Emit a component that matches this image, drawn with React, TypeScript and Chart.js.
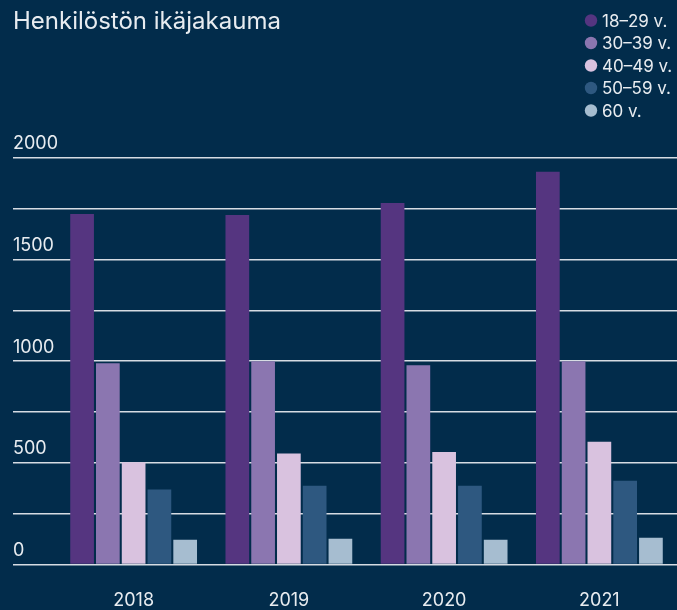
import { useEffect, useRef } from "react";
import { Chart, registerables } from "chart.js";

Chart.register(...registerables);

const titleText = "Henkilöstön ikäjakauma";
const categories = ["2018", "2019", "2020", "2021"];
const seriesLabels = ["18–29 v.", "30–39 v.", "40–49 v.", "50–59 v.", "60 v."];
const age18to29 = [1724, 1719, 1778, 1931];
const age30to39 = [989, 999, 979, 999];
const age40to49 = [502, 545, 553, 603];
const age50to59 = [368, 387, 387, 412];
const age60 = [121, 126, 121, 131];
const seriesColors = ["#553580", "#8b76b0", "#d9c2df", "#2e5880", "#a6bdd0"];
const labeledTicks = [0, 500, 1000, 1500, 2000];

const BG = "#022c4b";
const TEXT = "#e8ecf0";
const FONT = "Inter, 'Noto Sans', sans-serif";

const bgPlugin = {
  id: "bgFill",
  beforeDraw(chart: any) {
    const { ctx, width, height } = chart;
    ctx.save();
    ctx.fillStyle = BG;
    ctx.fillRect(0, 0, width, height);
    ctx.restore();
  },
};

const sideLegend = {
  id: "sideLegend",
  afterDraw(chart: any) {
    const { ctx } = chart;
    ctx.save();
    ctx.font = `17px ${FONT}`;
    ctx.textBaseline = "middle";
    ctx.textAlign = "left";
    chart.data.datasets.forEach((ds: any, i: number) => {
      const y = 20.5 + i * 22.5;
      ctx.fillStyle = ds.backgroundColor;
      ctx.beginPath();
      ctx.arc(591, y, 6.2, 0, Math.PI * 2);
      ctx.fill();
      ctx.fillStyle = TEXT;
      ctx.fillText(ds.label, 602, y + 1);
    });
    ctx.restore();
  },
};

export default function App() {
  const ref = useRef<HTMLCanvasElement | null>(null);
  useEffect(() => {
    if (!ref.current) return;
    const series = [age18to29, age30to39, age40to49, age50to59, age60];
    const chart = new Chart(ref.current, {
      type: "bar",
      data: {
        labels: categories,
        datasets: series.map((d, i) => ({
          label: seriesLabels[i],
          data: d,
          backgroundColor: seriesColors[i],
          borderWidth: 0,
          barPercentage: 0.92,
          categoryPercentage: 0.83,
        })),
      },
      options: {
        responsive: false,
        animation: false,
        devicePixelRatio: 1,
        layout: { padding: { left: 13, right: -3, top: 0, bottom: -26 } },
        plugins: {
          legend: { display: false },
          tooltip: { enabled: false },
          title: {
            display: true,
            text: titleText,
            align: "start",
            color: TEXT,
            font: { family: FONT, size: 24, weight: "normal" },
            padding: { top: 7, bottom: 122 },
          },
        },
        scales: {
          x: {
            grid: { display: false, drawTicks: false },
            border: { display: false },
            ticks: {
              color: TEXT,
              font: { family: FONT, size: 18 },
              padding: 25,
            },
          },
          y: {
            min: 0,
            max: 2000,
            border: { display: false },
            grid: {
              color: "rgba(232,236,240,0.92)",
              lineWidth: 1.5,
              drawTicks: true,
              tickLength: 43,
            },
            afterFit: (s: any) => {
              s.width = 43;
            },
            ticks: {
              stepSize: 250,
              autoSkip: false,
              mirror: true,
              crossAlign: "near",
              labelOffset: -14,
              padding: -43,
              color: TEXT,
              font: { family: FONT, size: 18 },
              callback: (v: any) => (labeledTicks.includes(Number(v)) ? String(v) : ""),
            },
          },
        },
      },
      plugins: [bgPlugin, sideLegend],
    });
    return () => chart.destroy();
  }, []);
  return (
    <div style={{ position: "absolute", left: 0, top: 0, width: 677, height: 610, background: BG }}>
      <canvas ref={ref} width={677} height={610} />
    </div>
  );
}
